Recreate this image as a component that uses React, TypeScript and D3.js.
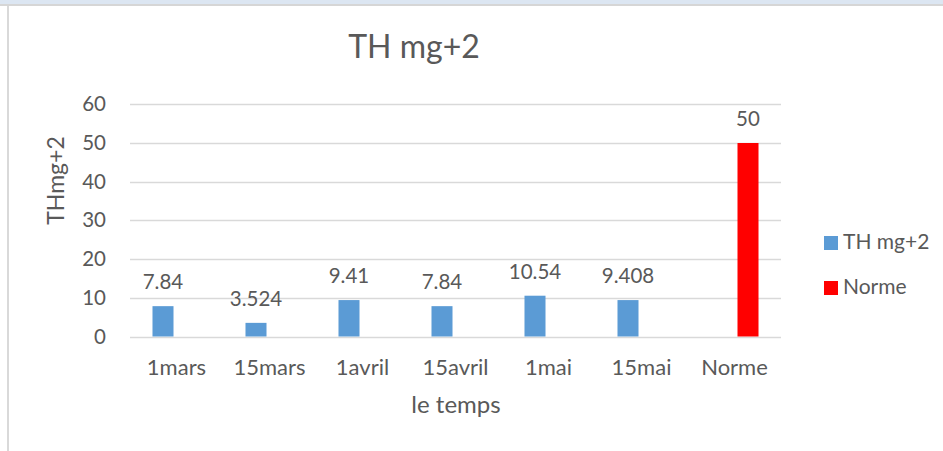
import React from "react";
import * as d3 from "d3";

const categories = ["1mars", "15mars", "1avril", "15avril", "1mai", "15mai", "Norme"];
const seriesNames = ["TH mg+2", "Norme"];
const thValues: (number | null)[] = [7.84, 3.524, 9.41, 7.84, 10.54, 9.408, null];
const normeValues: (number | null)[] = [null, null, null, null, null, null, 50];
const thLabels = ["7.84", "3.524", "9.41", "7.84", "10.54", "9.408", ""];
const normeLabels = ["", "", "", "", "", "", "50"];
const yTicks = [0, 10, 20, 30, 40, 50, 60];
const colors = ["#5b9bd5", "#ff0000"];

const W = 943;
const H = 451;
const FONT = "Lato, 'Open Sans', sans-serif";
const TXT = "#595959";

export default function App() {
  const x = d3.scaleBand().domain(categories).range([130, 781]).padding(0);
  const xs = d3.scaleBand().domain(seriesNames).range([0, x.bandwidth()]).paddingInner(0.222).paddingOuter(0.833);
  const y = d3.scaleLinear().domain([0, 60]).range([336.5, 104.3]);
  const series = [
    { name: seriesNames[0], values: thValues, labels: thLabels, color: colors[0] },
    { name: seriesNames[1], values: normeValues, labels: normeLabels, color: colors[1] },
  ];
  return (
    <svg width={W} height={H} style={{ position: "absolute", left: 0, top: 0, background: "#fff" }}>
      <rect x={0} y={0} width={W} height={4} fill="#dce6f2" />
      <rect x={0} y={4} width={W} height={2} fill="#d6d6d6" />
      <rect x={7} y={6} width={2} height={H - 6} fill="#d9d9d9" />
      <text x={414} y={58} textAnchor="middle" fontFamily={FONT} fontSize={32} fill={TXT}>TH mg+2</text>
      {yTicks.map((t) => (
        <g key={t}>
          <line x1={130} x2={781} y1={Math.round(y(t)) + 0.5} y2={Math.round(y(t)) + 0.5} stroke="#d9d9d9" strokeWidth={1.5} />
          <text x={106} y={y(t) + 7} textAnchor="end" fontFamily={FONT} fontSize={20.5} fill={TXT}>{t}</text>
        </g>
      ))}
      {series.map((s) =>
        categories.map((c, i) => {
          const v = s.values[i];
          if (v == null) return null;
          const bx = (x(c) as number) + (xs(s.name) as number);
          return (
            <g key={s.name + c}>
              <rect x={bx} y={y(v)} width={xs.bandwidth()} height={y(0) - y(v)} fill={s.color} />
              <text x={bx + xs.bandwidth() / 2} y={y(v) - 17} textAnchor="middle" fontFamily={FONT} fontSize={20.5} fill={TXT}>{s.labels[i]}</text>
            </g>
          );
        })
      )}
      {categories.map((c) => (
        <text key={c} x={(x(c) as number) + x.bandwidth() / 2} y={375} textAnchor="middle" fontFamily={FONT} fontSize={22} fill={TXT}>{c}</text>
      ))}
      <text x={456} y={413} textAnchor="middle" fontFamily={FONT} fontSize={24} fill={TXT}>le temps</text>
      <text transform={`translate(64,180.5) rotate(-90)`} textAnchor="middle" fontFamily={FONT} fontSize={23} fill={TXT}>THmg+2</text>
      {series.map((s, i) => (
        <g key={s.name}>
          <rect x={824} y={236 + i * 45} width={14} height={14} fill={s.color} />
          <text x={843} y={249 + i * 45} fontFamily={FONT} fontSize={21} fill={TXT}>{s.name}</text>
        </g>
      ))}
    </svg>
  );
}
